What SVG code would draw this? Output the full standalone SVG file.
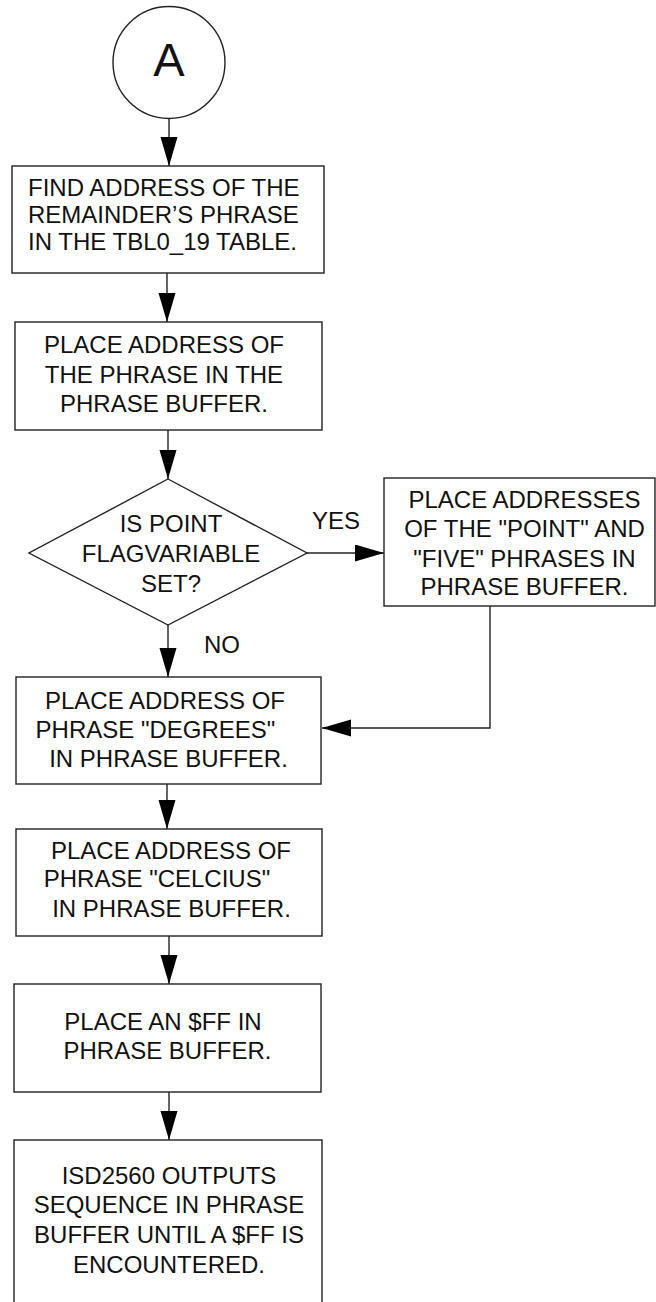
<svg xmlns="http://www.w3.org/2000/svg" width="656" height="1302" viewBox="0 0 656 1302">
  <style>
    .shape { fill: #ffffff; stroke: #222222; stroke-width: 1.4; }
    .wire { fill: none; stroke: #222222; stroke-width: 1.4; }
    .lbl { font-family: "Liberation Sans", Arial, sans-serif; font-size: 24px; fill: #111111; }
    .mid { text-anchor: middle; }
  </style>
  <defs>
    <marker id="arrow" markerUnits="userSpaceOnUse" markerWidth="30" markerHeight="18" refX="29" refY="8.5" orient="auto">
      <path d="M0,0 L29,8.5 L0,17 Z" fill="#000000"/>
    </marker>
  </defs>

  <rect width="656" height="1302" fill="#ffffff"/>

  <!-- connectors -->
  <g id="connectors">
    <line class="wire" x1="169" y1="118" x2="169" y2="166" marker-end="url(#arrow)"/>
    <line class="wire" x1="167" y1="273" x2="167" y2="322" marker-end="url(#arrow)"/>
    <line class="wire" x1="168" y1="430" x2="168" y2="479" marker-end="url(#arrow)"/>
    <line class="wire" x1="307" y1="553" x2="384" y2="553" marker-end="url(#arrow)"/>
    <line class="wire" x1="168" y1="625" x2="168" y2="677" marker-end="url(#arrow)"/>
    <polyline class="wire" points="490,606 490,728 322,728" marker-end="url(#arrow)"/>
    <line class="wire" x1="167" y1="784" x2="167" y2="829" marker-end="url(#arrow)"/>
    <line class="wire" x1="169" y1="936" x2="169" y2="984" marker-end="url(#arrow)"/>
    <line class="wire" x1="169" y1="1092" x2="169" y2="1140" marker-end="url(#arrow)"/>
    <text class="lbl" x="312" y="529">YES</text>
    <text class="lbl" x="204" y="653">NO</text>
  </g>

  <!-- connector A -->
  <g id="node-a">
    <circle class="shape" cx="169" cy="62.5" r="56"/>
    <text class="lbl mid" x="169" y="76" style="font-size:47px">A</text>
  </g>

  <g id="node-find-address">
    <rect class="shape" x="12" y="166" width="312" height="107"/>
    <text class="lbl" x="28" y="196">FIND ADDRESS OF THE</text>
    <text class="lbl" x="28" y="223">REMAINDER’S PHRASE</text>
    <text class="lbl" x="28" y="250">IN THE TBL0_19 TABLE.</text>
  </g>

  <g id="node-place-phrase">
    <rect class="shape" x="15" y="322" width="307" height="108"/>
    <text class="lbl mid" x="164" y="353">PLACE ADDRESS OF</text>
    <text class="lbl mid" x="164" y="383">THE PHRASE IN THE</text>
    <text class="lbl mid" x="164" y="412">PHRASE BUFFER.</text>
  </g>

  <g id="node-point-flag">
    <polygon class="shape" points="168,479 307,553 168,625 29,553"/>
    <text class="lbl mid" x="171" y="532">IS POINT</text>
    <text class="lbl mid" x="171" y="562">FLAGVARIABLE</text>
    <text class="lbl mid" x="171" y="592">SET?</text>
  </g>

  <g id="node-point-five">
    <rect class="shape" x="384" y="478" width="271" height="128"/>
    <text class="lbl mid" x="524.5" y="508">PLACE ADDRESSES</text>
    <text class="lbl mid" x="524.5" y="537">OF THE "POINT" AND</text>
    <text class="lbl mid" x="524.5" y="567">"FIVE" PHRASES IN</text>
    <text class="lbl mid" x="524.5" y="595">PHRASE BUFFER.</text>
  </g>

  <g id="node-degrees">
    <rect class="shape" x="16" y="677" width="305" height="107"/>
    <text class="lbl mid" x="165" y="709">PLACE ADDRESS OF</text>
    <text class="lbl mid" x="155.5" y="738">PHRASE "DEGREES"</text>
    <text class="lbl mid" x="168.5" y="767">IN PHRASE BUFFER.</text>
  </g>

  <g id="node-celcius">
    <rect class="shape" x="16" y="829" width="306" height="107"/>
    <text class="lbl mid" x="171" y="859">PLACE ADDRESS OF</text>
    <text class="lbl mid" x="157" y="887">PHRASE "CELCIUS"</text>
    <text class="lbl mid" x="171.5" y="917">IN PHRASE BUFFER.</text>
  </g>

  <g id="node-ff">
    <rect class="shape" x="14" y="984" width="307" height="108"/>
    <text class="lbl mid" x="163" y="1030">PLACE AN $FF IN</text>
    <text class="lbl mid" x="167.5" y="1059">PHRASE BUFFER.</text>
  </g>

  <g id="node-output">
    <rect class="shape" x="14" y="1140" width="308" height="180"/>
    <text class="lbl mid" x="169" y="1184">ISD2560 OUTPUTS</text>
    <text class="lbl mid" x="169" y="1213">SEQUENCE IN PHRASE</text>
    <text class="lbl mid" x="169" y="1243">BUFFER UNTIL A $FF IS</text>
    <text class="lbl mid" x="169" y="1273">ENCOUNTERED.</text>
  </g>
</svg>
